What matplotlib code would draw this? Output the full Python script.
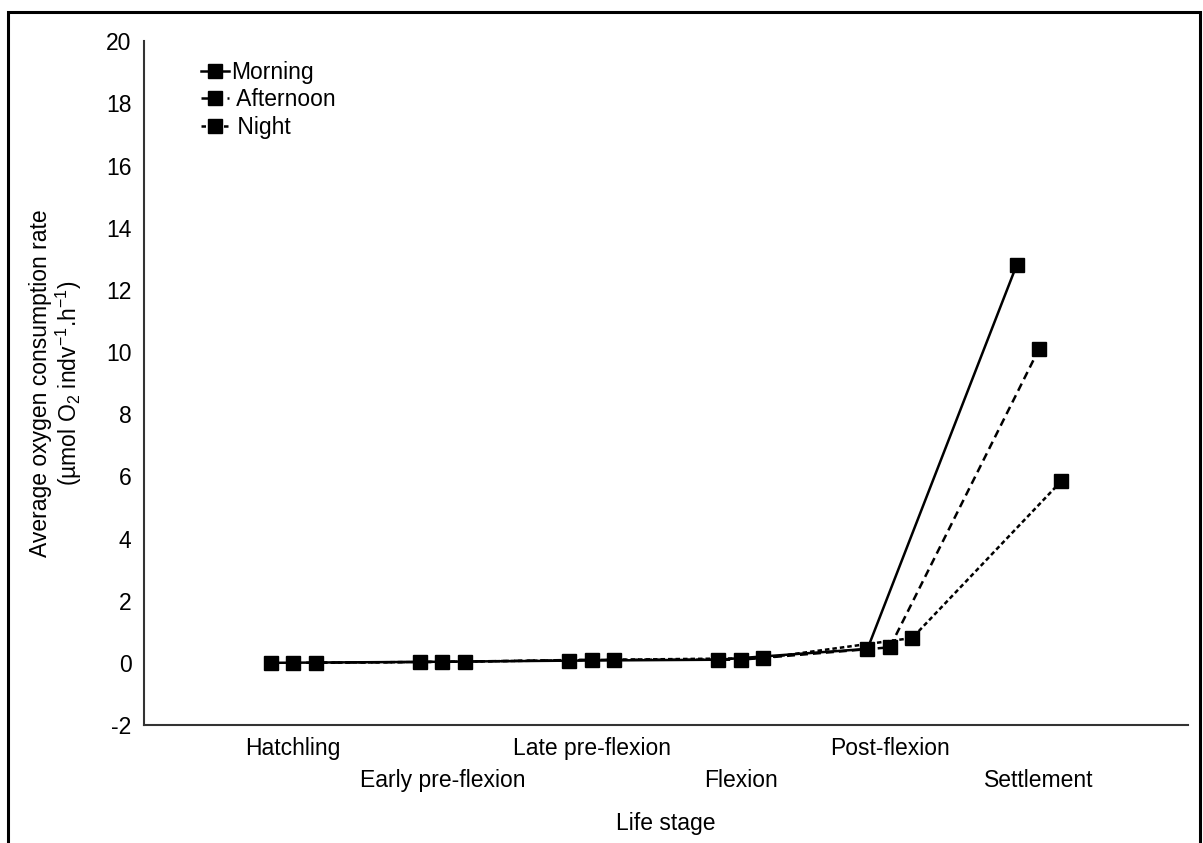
import numpy as np
import matplotlib
matplotlib.use("Agg")
import matplotlib.pyplot as plt
from matplotlib.patches import Rectangle

plt.rcParams['font.family'] = ['Liberation Sans', 'DejaVu Sans']
plt.rcParams['mathtext.fontset'] = 'custom'
plt.rcParams['mathtext.rm'] = 'Liberation Sans'
plt.rcParams['mathtext.it'] = 'Liberation Sans:italic'
plt.rcParams['axes.unicode_minus'] = False

stages = ["Hatchling", "Early pre-flexion", "Late pre-flexion",
          "Flexion", "Post-flexion", "Settlement"]
morning = [0.0, 0.03, 0.07, 0.10, 0.45, 12.8]
afternoon = [0.0, 0.03, 0.10, 0.10, 0.50, 10.1]
night = [0.0, 0.04, 0.10, 0.15, 0.80, 5.85]

fs = 16.5

fig = plt.figure(figsize=(12.03, 8.43), dpi=100)
ax = fig.add_axes([0.1197, 0.14, 0.868, 0.811])

x = np.arange(1, len(stages) + 1)
off = 0.15
kw = dict(color="black", marker="s", markersize=9.5, lw=1.8)
ax.plot(x - off, morning, ls="-", label="Morning", **kw)
ax.plot(x, afternoon, ls=(0, (3.2, 2)), label=" Afternoon", **kw)
ax.plot(x + off, night, ls=(0, (1.8, 1.2)), label=" Night", **kw)

ax.set_xlim(0, 7)
ax.set_ylim(-2, 20)
ax.set_yticks(np.arange(-2, 21, 2))
ax.tick_params(axis="both", length=0, labelsize=fs)
ax.tick_params(axis="x", pad=9)
ax.tick_params(axis="y", pad=9)

labels = [s if i % 2 == 0 else "\n" + s for i, s in enumerate(stages)]
ax.set_xticks(x)
ax.set_xticklabels(labels, linespacing=1.45)

for side in ("top", "right"):
    ax.spines[side].set_visible(False)
for side in ("left", "bottom"):
    ax.spines[side].set_color("#333333")
    ax.spines[side].set_linewidth(1.5)

ax.set_xlabel("Life stage", fontsize=fs, labelpad=15)
ax.set_ylabel("Average oxygen consumption rate\n"
              r"(µmol O$_{2}$ indv$^{\mathrm{-1}}$.h$^{\mathrm{-1}}$)",
              fontsize=fs, labelpad=16, linespacing=1.05)

ax.legend(loc="upper left", bbox_to_anchor=(0.046, 0.985), frameon=False,
          fontsize=fs, handlelength=1.2, handletextpad=0.1,
          labelspacing=0.2, borderaxespad=0)

# outer frame around the figure
fig.patches.append(Rectangle((8 / 1203, -0.05), 1192 / 1203, 1.05 - 12 / 843,
                             transform=fig.transFigure, fill=False,
                             ec="black", lw=2.2))

fig.savefig("out.png", dpi=100)
